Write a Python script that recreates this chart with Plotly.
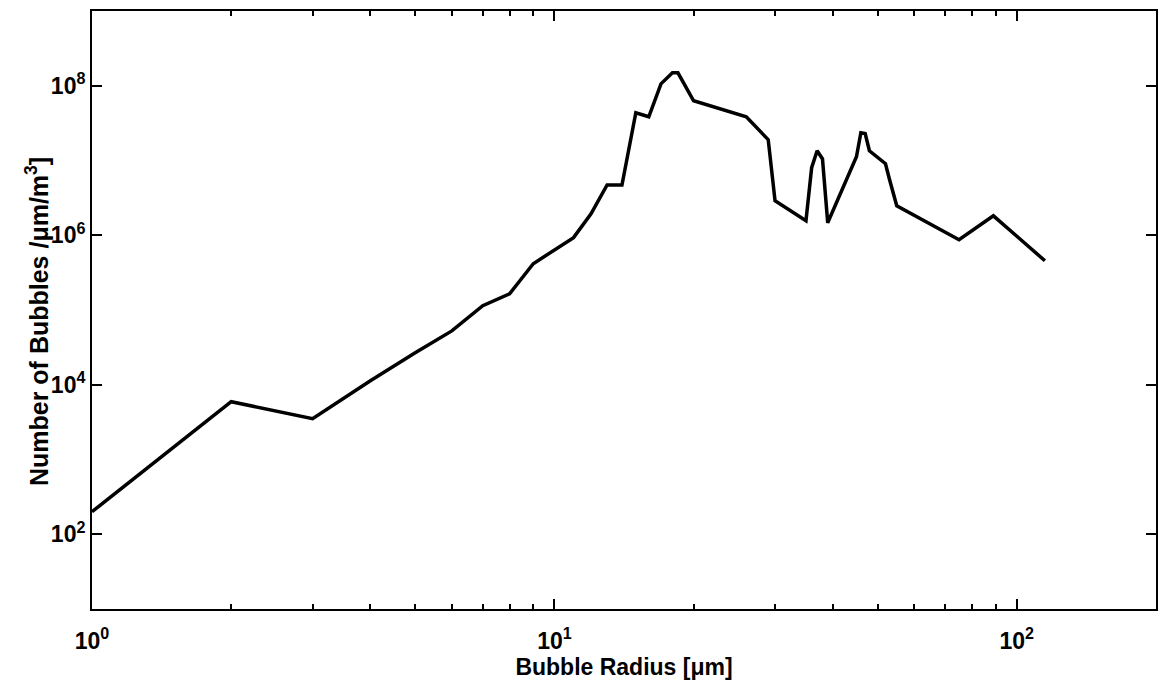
import plotly.graph_objects as go

# Bubble radius [um] and number of bubbles
radius = [1, 2, 3, 4, 5, 6, 7, 8, 9, 10, 11, 12, 13, 14, 15, 16, 17, 18, 18.5,
          20, 26, 29, 30, 35, 36, 37, 38, 39, 45, 46, 47, 48, 50, 52, 53, 55,
          75, 89, 115]
bubbles = [200, 5930, 3510, 11300, 26800, 52500, 114000, 165000, 416000, 635000,
           930000, 1.94e6, 4.7e6, 4.7e6, 4.35e7, 3.85e7, 1.06e8, 1.49e8, 1.49e8,
           6.3e7, 3.85e7, 1.9e7, 2.9e6, 1.56e6, 8.0e6, 1.35e7, 1.05e7, 1.47e6,
           1.12e7, 2.35e7, 2.3e7, 1.35e7, 1.12e7, 9.06e6, 5.7e6, 2.48e6,
           8.7e5, 1.82e6, 4.56e5]

x_major = [1, 10, 100]
x_major_text = ["10<sup>0</sup>", "10<sup>1</sup>", "10<sup>2</sup>"]
x_minor = [2, 3, 4, 5, 6, 7, 8, 9, 20, 30, 40, 50, 60, 70, 80, 90]
y_major = [1e2, 1e4, 1e6, 1e8]
y_major_text = ["10<sup>2</sup>", "10<sup>4</sup>", "10<sup>6</sup>", "10<sup>8</sup>"]

x_title = "Bubble Radius [μm]"
y_title = "Number of Bubbles /μm/m<sup>3</sup>]"

tick_font = dict(family="Liberation Sans Narrow, Arial Narrow, Liberation Sans", size=23,
                 color="black", weight="bold")
x_title_font = dict(family="Liberation Sans, Arial", size=23, color="black", weight="bold")
y_title_font = dict(family="Liberation Sans, Arial", size=25, color="black", weight="bold")

fig = go.Figure()
fig.add_trace(go.Scatter(x=radius, y=bubbles, mode="lines",
                         line=dict(color="black", width=3.5),
                         showlegend=False, hoverinfo="x+y"))

fig.update_layout(
    width=1158, height=689,
    margin=dict(l=92, r=0, t=11, b=80),
    paper_bgcolor="white", plot_bgcolor="white",
    xaxis=dict(
        type="log", range=[0, 2.30103],
        showline=True, linecolor="black", linewidth=2, mirror="allticks",
        ticks="inside", ticklen=10, tickwidth=1.5, tickcolor="black",
        tickmode="array", tickvals=x_major, ticktext=x_major_text,
        tickfont=tick_font, showgrid=False, zeroline=False,
        ticklabelstandoff=10,
        minor=dict(ticks="inside", ticklen=5, tickwidth=1.5, tickcolor="black",
                   tickmode="array", tickvals=x_minor, showgrid=False),
        title=dict(text=x_title, font=x_title_font, standoff=4),
    ),
    yaxis=dict(
        type="log", range=[1, 9],
        showline=True, linecolor="black", linewidth=2, mirror="allticks",
        ticks="inside", ticklen=10, tickwidth=1.5, tickcolor="black",
        tickmode="array", tickvals=y_major, ticktext=y_major_text,
        tickfont=tick_font, showgrid=False, zeroline=False,
    ),
    annotations=[dict(
        text=y_title, font=y_title_font, textangle=-90,
        xref="paper", yref="paper", x=-0.0516, y=0.48,
        xanchor="center", yanchor="middle", showarrow=False,
    )],
)

fig.write_html("out.html")
